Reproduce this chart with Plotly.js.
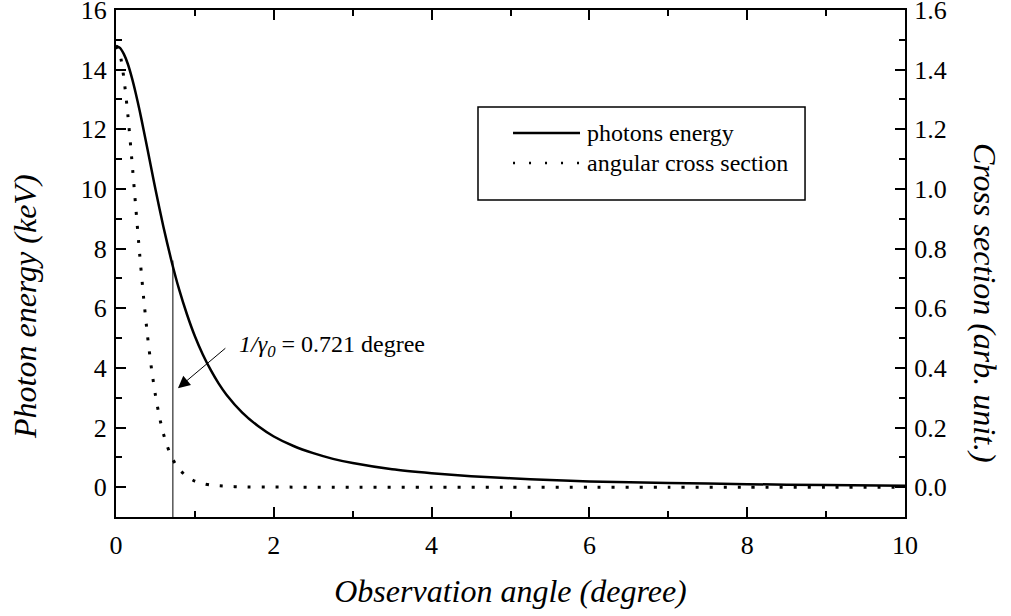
<!DOCTYPE html>
<html>
<head>
<meta charset="utf-8">
<script src="https://cdn.plot.ly/plotly-3.0.1.min.js"></script>
<style>html,body{margin:0;padding:0;background:#fff;}#chart{width:1011px;height:616px;}</style>
</head>
<body>
<div id="chart"></div>
<script>
// Observation angle (degree) for the photon energy curve
var angleEnergy = [0, 0.05, 0.1, 0.15, 0.2, 0.25, 0.3, 0.35, 0.4, 0.45, 0.5, 0.6, 0.7, 0.8, 0.9, 1.0, 1.1, 1.2, 1.3, 1.4, 1.6, 1.8, 2.0, 2.25, 2.5, 2.75, 3.0, 3.5, 4.0, 4.5, 5.0, 5.5, 6.0, 7.0, 8.0, 9.0, 10.0];
// Photon energy (keV)
var photonEnergy = [14.8, 14.73, 14.52, 14.19, 13.74, 13.21, 12.62, 11.98, 11.32, 10.65, 9.99, 8.74, 7.62, 6.63, 5.79, 5.06, 4.45, 3.93, 3.48, 3.10, 2.50, 2.05, 1.70, 1.38, 1.14, 0.95, 0.81, 0.60, 0.47, 0.37, 0.30, 0.24, 0.19, 0.14, 0.10, 0.07, 0.05];

// Observation angle (degree) for the angular cross section
var angleCross = [0, 0.05, 0.1, 0.15, 0.2, 0.25, 0.3, 0.35, 0.4, 0.45, 0.5, 0.55, 0.6, 0.65, 0.7, 0.75, 0.8, 0.9, 1.0, 1.1, 1.2, 1.4, 1.6, 2.0, 3.0, 4.0, 5.0, 6.0, 7.0, 8.0, 9.0, 10.0];
// Cross section (arb. unit)
var crossSection = [1.48, 1.452, 1.371, 1.249, 1.100, 0.940, 0.781, 0.635, 0.506, 0.397, 0.308, 0.236, 0.180, 0.137, 0.104, 0.079, 0.060, 0.035, 0.020, 0.012, 0.007, 0.003, 0.001, 0.0003, 0, 0, 0, 0, 0, 0, 0, 0];

var seriesNames = ["photons energy", "angular cross section"];
var gammaAngle = 0.721;       // 1/gamma0 in degree
var gammaEnergy = 7.6;        // photon energy at 1/gamma0
var xTicks = [0, 2, 4, 6, 8, 10];
var yTicks = [0, 2, 4, 6, 8, 10, 12, 14, 16];
var y2Ticks = [0.0, 0.2, 0.4, 0.6, 0.8, 1.0, 1.2, 1.4, 1.6];

var FONT = "'Liberation Serif', 'Times New Roman', Times, serif";

var traces = [
  {x: angleEnergy, y: photonEnergy, name: seriesNames[0], type: "scatter", mode: "lines",
   line: {color: "#000", width: 2.5, shape: "spline", smoothing: 0.6}, xaxis: "x", yaxis: "y", showlegend: false},
  {x: angleCross, y: crossSection, name: seriesNames[1], type: "scatter", mode: "lines",
   line: {color: "#000", width: 3, dash: "3px,11px", shape: "spline", smoothing: 0.6}, xaxis: "x", yaxis: "y2", showlegend: false}
];

function axisBase() {
  return {
    showgrid: false, zeroline: false, showline: true, linecolor: "#000", linewidth: 2,
    ticks: "inside", ticklen: 10, tickwidth: 2, tickcolor: "#000",
    ticklabeloverflow: "allow",
    tickfont: {family: FONT, size: 26, color: "#000"}
  };
}

var xaxis = Object.assign(axisBase(), {
  range: [0, 10], tickvals: xTicks, mirror: "ticks",
  minor: {ticks: "inside", ticklen: 6, tickwidth: 2, tickcolor: "#000", dtick: 1, tick0: 0, showgrid: false},
  ticklabelstandoff: 4,
  title: {text: "Observation angle (degree)", font: {family: FONT, size: 32, color: "#000", style: "italic"}, standoff: 20}
});
var yaxis = Object.assign(axisBase(), {
  range: [-1, 16], tickvals: yTicks,
  minor: {ticks: "inside", ticklen: 6, tickwidth: 2, tickcolor: "#000", dtick: 1, tick0: 0, showgrid: false},
  ticklabelstandoff: 2
});
var yaxis2 = Object.assign(axisBase(), {
  range: [-0.1, 1.6], tickvals: y2Ticks, tickformat: ".1f", overlaying: "y", side: "right",
  minor: {ticks: "inside", ticklen: 6, tickwidth: 2, tickcolor: "#000", dtick: 0.1, tick0: 0, showgrid: false},
  ticklabelstandoff: 2
});

// legend geometry (paper coords)
var lg = {x0: 0.4588, x1: 0.8733, y0: 0.6252, y1: 0.8087, lx0: 0.5032, lx1: 0.5881, r1: 0.7574, r2: 0.6982, tx: 0.5944};

var layout = {
  width: 1011, height: 616,
  margin: {l: 116, r: 106, t: 10, b: 99},
  paper_bgcolor: "#fff", plot_bgcolor: "#fff",
  font: {family: FONT, color: "#000"},
  xaxis: xaxis, yaxis: yaxis, yaxis2: yaxis2,
  showlegend: false,
  shapes: [
    {type: "line", xref: "x", yref: "y", x0: gammaAngle, x1: gammaAngle, y0: -1, y1: gammaEnergy, line: {color: "#000", width: 1}},
    {type: "rect", xref: "paper", yref: "paper", x0: lg.x0, x1: lg.x1, y0: lg.y0, y1: lg.y1, line: {color: "#000", width: 1.5}, fillcolor: "#fff", layer: "above"},
    {type: "line", xref: "paper", yref: "paper", x0: lg.lx0, x1: lg.lx1, y0: lg.r1, y1: lg.r1, line: {color: "#000", width: 2.5}},
    {type: "line", xref: "paper", yref: "paper", x0: lg.lx0, x1: lg.lx1, y0: lg.r2, y1: lg.r2, line: {color: "#000", width: 2.5, dash: "2px,14px"}}
  ],
  annotations: [
    {xref: "paper", yref: "paper", x: lg.tx, y: lg.r1, xanchor: "left", yanchor: "middle", showarrow: false,
     text: seriesNames[0], font: {family: FONT, size: 24, color: "#000"}},
    {xref: "paper", yref: "paper", x: lg.tx, y: lg.r2, xanchor: "left", yanchor: "middle", showarrow: false,
     text: seriesNames[1], font: {family: FONT, size: 24, color: "#000"}},
    {xref: "x", yref: "y", x: 0.785, y: 3.32, axref: "x", ayref: "y", ax: 1.405, ay: 4.70, text: "",
     showarrow: true, arrowhead: 2, arrowsize: 2.4, arrowwidth: 1, arrowcolor: "#000"},
    {xref: "x", yref: "y", x: 1.53, y: 4.75, xanchor: "left", yanchor: "middle", showarrow: false,
     text: "<i>1/γ<sub>0</sub></i> = " + gammaAngle + " degree", font: {family: FONT, size: 24, color: "#000"}},
    {xref: "paper", yref: "paper", x: (25 - 116) / 789, y: (517 - 307) / 507, xanchor: "center", yanchor: "middle", showarrow: false,
     textangle: -90, text: "Photon energy (keV)", font: {family: FONT, size: 32, color: "#000", style: "italic"}},
    {xref: "paper", yref: "paper", x: (985 - 116) / 789, y: (517 - 303) / 507, xanchor: "center", yanchor: "middle", showarrow: false,
     textangle: 90, text: "Cross section (arb. unit.)", font: {family: FONT, size: 32, color: "#000", style: "italic"}}
  ]
};

Plotly.newPlot("chart", traces, layout, {staticPlot: true, displayModeBar: false});
</script>
</body>
</html>
